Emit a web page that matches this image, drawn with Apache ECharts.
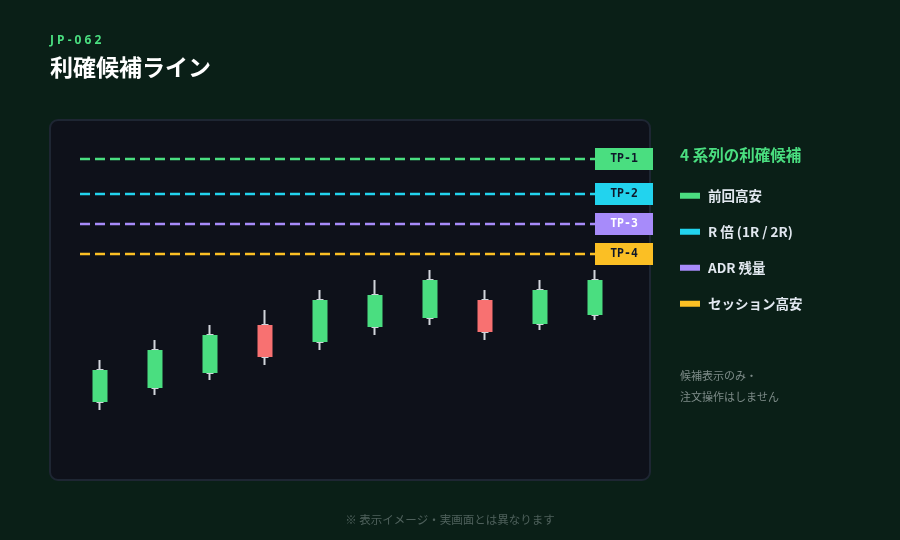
<!DOCTYPE html>
<html>
<head>
<meta charset="utf-8">
<script src="https://cdn.jsdelivr.net/npm/echarts@6/dist/echarts.min.js"></script>
<style>
  html, body { margin: 0; padding: 0; background: #0a1f17; }
  #main { width: 900px; height: 540px; }
</style>
</head>
<body>
<div id="main"></div>
<script>
// ローソク足 (open, close, low, high)
var bars = ['1', '2', '3', '4', '5', '6', '7', '8', '9', '10'];
var opens = [78, 92, 107, 155, 138, 153, 162, 180, 156, 165];
var closes = [110, 130, 145, 123, 180, 185, 200, 148, 190, 200];
var lows = [70, 85, 100, 115, 130, 145, 155, 140, 150, 160];
var highs = [120, 140, 155, 170, 190, 200, 210, 190, 200, 210];

// 利確候補ライン
var tpNames = ['前回高安', 'R 倍 (1R / 2R)', 'ADR 残量', 'セッション高安'];
var tpTags = ['TP-1', 'TP-2', 'TP-3', 'TP-4'];
var tpLevels = [321, 286, 256, 226];
var tpColors = ['#4ade80', '#22d3ee', '#a78bfa', '#fbbf24'];
var tpTagText = ['#0f172a', '#0f172a', '#ffffff', '#0f172a'];

var upColor = '#4ade80';
var downColor = '#f87171';
var wickColor = '#d1d5db';

var wickData = [], bodyData = [];
for (let i = 0; i < bars.length; i++) {
    wickData.push([opens[i], closes[i], lows[i], highs[i]]);
    bodyData.push([opens[i], closes[i], Math.min(opens[i], closes[i]), Math.max(opens[i], closes[i])]);
}

var series = [
    {
        name: 'wick',
        type: 'candlestick',
        xAxisIndex: 0, yAxisIndex: 0,
        barWidth: 6,
        data: wickData,
        itemStyle: {color: wickColor, color0: wickColor, borderColor: wickColor, borderColor0: wickColor, borderWidth: 2},
        silent: true
    },
    {
        name: 'body',
        type: 'candlestick',
        xAxisIndex: 0, yAxisIndex: 0,
        barWidth: 16,
        data: bodyData,
        itemStyle: {color: upColor, color0: downColor, borderColor: upColor, borderColor0: downColor, borderWidth: 0},
        silent: true
    }
];

for (let i = 0; i < tpLevels.length; i++) {
    series.push({
        name: tpNames[i],
        type: 'line',
        xAxisIndex: 1, yAxisIndex: 1,
        data: [[0, tpLevels[i]], [1, tpLevels[i]]],
        symbol: 'none',
        silent: true,
        itemStyle: {color: tpColors[i]},
        lineStyle: {color: tpColors[i], width: 2.5, type: [10, 5]},
        endLabel: {
            show: true,
            distance: 0,
            formatter: '{t|' + tpTags[i] + '}',
            rich: {
                t: {
                    width: 58,
                    height: 22,
                    lineHeight: 22,
                    align: 'center',
                    backgroundColor: tpColors[i],
                    color: tpTagText[i],
                    fontFamily: 'DejaVu Sans Mono',
                    fontWeight: 'bold',
                    fontSize: 11.5
                }
            }
        }
    });
}

var chart = echarts.init(document.getElementById('main'));

var option = {
    backgroundColor: '#0a1f17',
    animation: false,
    graphic: [
        {
            type: 'rect',
            z: -10,
            shape: {x: 50, y: 120, width: 600, height: 360, r: 8},
            style: {fill: '#0e111a', stroke: '#1e2633', lineWidth: 2}
        },
        {
            type: 'text', left: 50, top: 35,
            style: {text: 'J P - 0 6 2', fill: '#4ade80', font: 'bold 12px "Noto Sans"'}
        },
        {
            type: 'text', left: 50, top: 56,
            style: {text: '利確候補ライン', fill: '#ffffff', font: 'bold 23px "Noto Sans CJK JP"'}
        },
        {
            type: 'text', left: 680, top: 147,
            style: {text: '4 系列の利確候補', fill: '#4ade80', font: 'bold 15.5px "Noto Sans CJK JP"'}
        },
        {
            type: 'text', left: 680, top: 365,
            style: {text: '候補表示のみ・\n注文操作はしません', fill: '#7d8b88', font: '11px "Noto Sans CJK JP"', lineHeight: 21}
        },
        {
            type: 'text', left: 'center', top: 514,
            style: {text: '※ 表示イメージ・実画面とは異なります', fill: '#4f615c', font: '11.5px "Noto Sans CJK JP"'}
        }
    ],
    legend: {
        data: tpNames,
        orient: 'vertical',
        left: 680,
        top: 189,
        padding: 0,
        icon: 'rect',
        itemWidth: 20,
        itemHeight: 6,
        itemGap: 22.5,
        selectedMode: false,
        textStyle: {color: '#e2e8f0', fontSize: 13.5, fontWeight: 'bold', fontFamily: 'Noto Sans CJK JP', padding: [0, 0, 0, 3]}
    },
    grid: [
        {left: 72.5, top: 120, width: 550, height: 360},
        {left: 80, top: 120, width: 515, height: 360}
    ],
    xAxis: [
        {type: 'category', data: bars, gridIndex: 0, show: false, boundaryGap: true},
        {type: 'value', gridIndex: 1, min: 0, max: 1, show: false}
    ],
    yAxis: [
        {type: 'value', gridIndex: 0, min: 0, max: 360, show: false},
        {type: 'value', gridIndex: 1, min: 0, max: 360, show: false}
    ],
    series: series
};

chart.setOption(option);
</script>
</body>
</html>
